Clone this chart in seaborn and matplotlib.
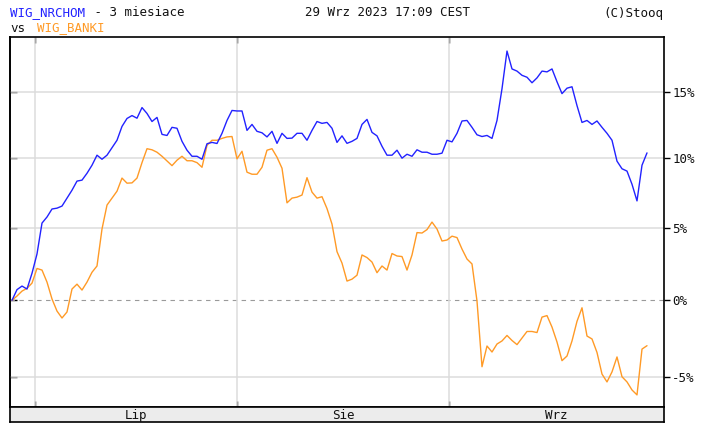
import numpy as np
import pandas as pd
import matplotlib.pyplot as plt
import seaborn as sns
from matplotlib.ticker import NullLocator
from matplotlib.transforms import blended_transform_factory

# % change since start, one value per ~half session
nrchom = [0.0, 0.72, 0.96, 0.76, 1.83, 3.16, 5.32, 5.75, 6.32, 6.38,
          6.53, 7.1, 7.67, 8.33, 8.4, 8.9, 9.49, 10.23, 9.93, 10.23,
          10.78, 11.34, 12.38, 12.98, 13.2, 13.0, 13.81, 13.36, 12.75, 13.06,
          11.78, 11.7, 12.31, 12.24, 11.26, 10.6, 10.15, 10.15, 9.93, 11.08,
          11.18, 11.1, 11.86, 12.83, 13.59, 13.55, 13.55, 12.08, 12.53, 12.01,
          11.9, 11.59, 12.01, 11.11, 11.86, 11.48, 11.5, 11.86, 11.86, 11.34,
          12.08, 12.75, 12.61, 12.68, 12.24, 11.18, 11.67, 11.11, 11.26, 11.48,
          12.53, 12.91, 11.93, 11.67, 10.89, 10.23, 10.23, 10.6, 10.01, 10.3,
          10.15, 10.63, 10.45, 10.45, 10.3, 10.3, 10.38, 11.34, 11.22, 11.86,
          12.79, 12.83, 12.31, 11.75, 11.62, 11.7, 11.48, 12.83, 15.26, 18.21,
          16.8, 16.63, 16.3, 16.15, 15.72, 16.1, 16.63, 16.57, 16.8, 15.8,
          14.88, 15.3, 15.41, 13.96, 12.68, 12.83, 12.53, 12.79, 12.31, 11.86,
          11.34, 9.79, 9.23, 9.06, 8.1, 6.9, 9.49, 10.4]
banki = [0.0, 0.29, 0.62, 0.81, 1.16, 2.16, 2.05, 1.23, 0.09, -0.72,
         -1.18, -0.78, 0.76, 1.09, 0.69, 1.23, 1.9, 2.33, 4.9, 6.6,
         7.1, 7.6, 8.55, 8.18, 8.2, 8.55, 9.68, 10.71, 10.63, 10.45,
         10.15, 9.81, 9.46, 9.86, 10.15, 9.82, 9.82, 9.68, 9.34, 10.96,
         11.34, 11.34, 11.48, 11.59, 11.62, 9.96, 10.52, 8.98, 8.83, 8.83,
         9.34, 10.6, 10.71, 10.08, 9.27, 6.76, 7.1, 7.17, 7.32, 8.58,
         7.53, 7.1, 7.2, 6.35, 5.25, 3.32, 2.53, 1.3, 1.43, 1.7,
         3.09, 2.91, 2.6, 1.87, 2.33, 2.05, 3.19, 3.02, 2.98, 2.05,
         3.09, 4.65, 4.62, 4.86, 5.39, 4.9, 4.06, 4.13, 4.4, 4.3,
         3.5, 2.81, 2.47, -0.05, -4.36, -3.02, -3.41, -2.89, -2.69, -2.33,
         -2.66, -2.93, -2.5, -2.07, -2.07, -2.14, -1.12, -1.02, -1.78, -2.76,
         -3.97, -3.67, -2.69, -1.4, -0.5, -2.37, -2.56, -3.44, -4.83, -5.33,
         -4.69, -3.73, -5.0, -5.33, -5.84, -6.15, -3.22, -3.0]
month_names = ["Lip", "Sie", "Wrz"]
month_starts = [4.6, 45, 87.4]   # sample index where each month begins
pct_ticks = [-5, 0, 5, 10, 15]

BLUE = "#2222ff"
ORANGE = "#ff9a26"
GRID = "#dcdcdc"

df = pd.DataFrame({"t": range(len(nrchom)), "WIG_NRCHOM": nrchom, "WIG_BANKI": banki})
long = df.melt("t", var_name="idx", value_name="pct")
long["lvl"] = 100 + long["pct"]   # stooq draws it on a log scale

sns.set_style("white")
plt.rcParams["font.family"] = ["DejaVu Sans Mono", "DejaVu Sans"]

W, H = 706, 426
fig = plt.figure(figsize=(W / 100, H / 100), dpi=100)
ax = fig.add_axes([10 / W, 19 / H, 654 / W, 370 / H])

xmax = len(nrchom) + 2.4
ax.set_yscale("log")
ax.set_xlim(-0.4, xmax)
ax.set_ylim(93.09, 119.33)

for p in pct_ticks:
    if p == 0:
        ax.axhline(100, color="#9a9a9a", lw=0.8, ls=(0, (4, 4)), zorder=1)
    else:
        ax.axhline(100 + p, color=GRID, lw=1.1, zorder=1)
for m in month_starts:
    ax.axvline(m, color=GRID, lw=1.1, zorder=1)

sns.lineplot(data=long, x="t", y="lvl", hue="idx",
             palette={"WIG_NRCHOM": BLUE, "WIG_BANKI": ORANGE},
             hue_order=["WIG_BANKI", "WIG_NRCHOM"],
             lw=1.0, legend=False, ax=ax, zorder=3)
ax.set_xlabel("")
ax.set_ylabel("")

ax.set_yticks([100 + p for p in pct_ticks])
ax.set_yticklabels([f"{p}%" for p in pct_ticks])
ax.yaxis.set_minor_locator(NullLocator())
ax.yaxis.tick_right()
ax.tick_params(axis="y", direction="out", length=4, width=1, pad=2,
               labelsize=9, right=True, left=False, color="black",
               labelcolor="#111111")

sec = ax.secondary_yaxis("left")
sec.set_yticks([100 + p for p in pct_ticks])
sec.yaxis.set_minor_locator(NullLocator())
sec.tick_params(direction="in", length=5, width=1, labelleft=False, color="black")
sec.spines["left"].set_linewidth(1.2)
sec.spines["left"].set_color("black")

ax.set_xticks(month_starts)
ax.tick_params(axis="x", direction="in", length=4, width=1, color="black",
               top=True, bottom=True, labelbottom=False)
for s in ax.spines.values():
    s.set_color("black")
    s.set_linewidth(1.2)

# month band under the plot
bx = fig.add_axes([10 / W, 4 / H, 654 / W, 15 / H])
bx.set_facecolor("#ececec")
bx.set_xlim(-0.4, xmax)
bx.set_xticks([])
bx.set_yticks([])
for s in bx.spines.values():
    s.set_color("black")
    s.set_linewidth(1.2)
edges = month_starts + [xmax]
tr = blended_transform_factory(bx.transData, bx.transAxes)
for name, a, b in zip(month_names, edges[:-1], edges[1:]):
    bx.text((a + b) / 2, 0.45, name, transform=tr, ha="center", va="center",
            fontsize=9, color="#111111")

# header
fs = 9
fig.text(10 / W, 1 - 13 / H, "WIG_NRCHOM", color=BLUE, fontsize=fs, va="center")
fig.text(87 / W, 1 - 13 / H, " - 3 miesiace", color="#111111", fontsize=fs, va="center")
fig.text(10 / W, 1 - 28 / H, "vs", color="#111111", fontsize=fs, va="center")
fig.text(37 / W, 1 - 28 / H, "WIG_BANKI", color=ORANGE, fontsize=fs, va="center")
fig.text(305 / W, 1 - 13 / H, "29 Wrz 2023 17:09 CEST", color="#111111", fontsize=fs, va="center")
fig.text(663 / W, 1 - 13 / H, "(C)Stooq", color="#111111", fontsize=fs, va="center", ha="right")

fig.savefig("out.png", dpi=100)
